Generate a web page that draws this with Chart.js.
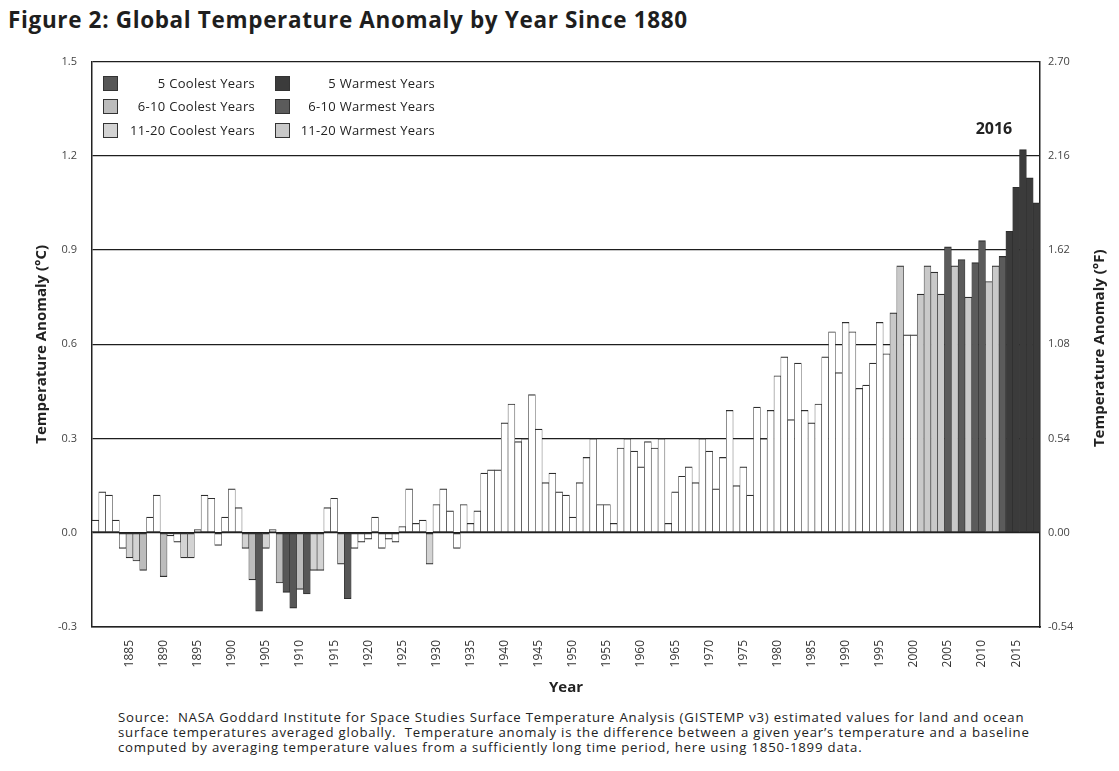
<!DOCTYPE html>
<html>
<head>
<meta charset="utf-8">
<script src="https://cdn.jsdelivr.net/npm/chart.js@4.4.1/dist/chart.umd.min.js"></script>
<style>
html,body{margin:0;padding:0;background:#fff;}
#wrap{position:relative;width:1119px;height:771px;overflow:hidden;font-family:"Open Sans",sans-serif;color:#222;}
#title{position:absolute;left:8px;top:4px;font-size:22.5px;letter-spacing:0.65px;font-weight:700;white-space:nowrap;color:#1e1e1e;}
#chartBox{position:absolute;left:0;top:40px;width:1119px;height:660px;}
#legend{position:absolute;left:0;top:0;width:1119px;height:200px;pointer-events:none;}
.lg{position:absolute;display:flex;align-items:center;justify-content:space-between;height:16px;font-size:13px;letter-spacing:0.3px;color:#222;}
.sw{width:15px;height:15px;box-sizing:border-box;border:1px solid #333;}
#source{position:absolute;left:118px;top:710px;font-size:13.2px;letter-spacing:0.8px;line-height:15px;white-space:pre;color:#222;}
</style>
</head>
<body>
<div id="wrap">
  <div id="title">Figure 2: Global Temperature Anomaly by Year Since 1880</div>
  <div id="chartBox"><canvas id="c" width="1119" height="660"></canvas></div>
  <div id="legend"></div>
  <div id="source">Source:  NASA Goddard Institute for Space Studies Surface Temperature Analysis (GISTEMP v3) estimated values for land and ocean
surface temperatures averaged globally.  Temperature anomaly is the difference between a given year’s temperature and a baseline
computed by averaging temperature values from a sufficiently long time period, here using 1850-1899 data.</div>
</div>
<script>
// ---- categories ----
const years = [
  1880,1881,1882,1883,1884,1885,1886,1887,1888,1889,
  1890,1891,1892,1893,1894,1895,1896,1897,1898,1899,
  1900,1901,1902,1903,1904,1905,1906,1907,1908,1909,
  1910,1911,1912,1913,1914,1915,1916,1917,1918,1919,
  1920,1921,1922,1923,1924,1925,1926,1927,1928,1929,
  1930,1931,1932,1933,1934,1935,1936,1937,1938,1939,
  1940,1941,1942,1943,1944,1945,1946,1947,1948,1949,
  1950,1951,1952,1953,1954,1955,1956,1957,1958,1959,
  1960,1961,1962,1963,1964,1965,1966,1967,1968,1969,
  1970,1971,1972,1973,1974,1975,1976,1977,1978,1979,
  1980,1981,1982,1983,1984,1985,1986,1987,1988,1989,
  1990,1991,1992,1993,1994,1995,1996,1997,1998,1999,
  2000,2001,2002,2003,2004,2005,2006,2007,2008,2009,
  2010,2011,2012,2013,2014,2015,2016,2017,2018
];
// ---- temperature anomaly (°C) ----
const anomalyC = [
   0.04, 0.13, 0.12, 0.04,-0.05,-0.08,-0.09,-0.12, 0.05, 0.12,
  -0.14,-0.01,-0.03,-0.08,-0.08, 0.01, 0.12, 0.11,-0.04, 0.05,
   0.14, 0.08,-0.05,-0.15,-0.25,-0.05, 0.01,-0.16,-0.19,-0.24,
  -0.18,-0.195,-0.12,-0.12, 0.08, 0.11,-0.10,-0.21,-0.05,-0.03,
  -0.02, 0.05,-0.05,-0.02,-0.03, 0.02, 0.14, 0.03, 0.04,-0.10,
   0.09, 0.14, 0.07,-0.05, 0.09, 0.03, 0.07, 0.19, 0.20, 0.20,
   0.35, 0.41, 0.29, 0.30, 0.44, 0.33, 0.16, 0.19, 0.13, 0.12,
   0.05, 0.16, 0.24, 0.30, 0.09, 0.09, 0.03, 0.27, 0.30, 0.26,
   0.21, 0.29, 0.27, 0.30, 0.03, 0.13, 0.18, 0.21, 0.16, 0.30,
   0.26, 0.14, 0.24, 0.39, 0.15, 0.21, 0.12, 0.40, 0.30, 0.39,
   0.50, 0.56, 0.36, 0.54, 0.39, 0.35, 0.41, 0.56, 0.64, 0.51,
   0.67, 0.64, 0.46, 0.47, 0.54, 0.67, 0.57, 0.70, 0.85, 0.63,
   0.63, 0.76, 0.85, 0.83, 0.76, 0.91, 0.85, 0.87, 0.75, 0.86,
   0.93, 0.80, 0.85, 0.88, 0.96, 1.10, 1.22, 1.13, 1.05
];
// ---- ranked groups (as shaded in the figure) ----
const coolest5 = [1904, 1909, 1917, 1911, 1908];
const coolest6to10 = [1910, 1907, 1903, 1890, 1887];
const coolest11to20 = [1912, 1913, 1929, 1916, 1886, 1885, 1893, 1894, 1902, 1905];
const warmest5 = [2016, 2017, 2015, 2018, 2014];
const warmest6to10 = [2010, 2005, 2013, 2007, 2009];
const warmest11to20 = [1998, 2002, 2006, 2012, 2003, 2011, 2001, 2004, 2008, 1997];
// ---- ticks ----
const leftTicksC = [-0.3, 0.0, 0.3, 0.6, 0.9, 1.2, 1.5];
const rightTicksF = [-0.54, 0.00, 0.54, 1.08, 1.62, 2.16, 2.70];
const labelledYears = [1885,1890,1895,1900,1905,1910,1915,1920,1925,1930,1935,1940,1945,1950,1955,1960,1965,1970,1975,1980,1985,1990,1995,2000,2005,2010,2015];
const highlightYear = 2016;
// ---- legend labels ----
const legendLabels = [
  ['5 Coolest Years', '5 Warmest Years'],
  ['6-10 Coolest Years', '6-10 Warmest Years'],
  ['11-20 Coolest Years', '11-20 Warmest Years']
];

const shade = {
  c5: '#575757', c10: '#bcbcbc', c20: '#d3d3d3',
  w5: '#3b3b3b', w10: '#5b5b5b', w20: '#c9c9c9', none: '#ffffff'
};
function shadeFor(y) {
  if (coolest5.includes(y)) return shade.c5;
  if (coolest6to10.includes(y)) return shade.c10;
  if (coolest11to20.includes(y)) return shade.c20;
  if (warmest5.includes(y)) return shade.w5;
  if (warmest6to10.includes(y)) return shade.w10;
  if (warmest11to20.includes(y)) return shade.w20;
  return shade.none;
}
const barColors = years.map(shadeFor);

// legend (html)
const legendSw = [[shade.c5, shade.w5],[shade.c10, shade.w10],[shade.c20, shade.w20]];
const lg = document.getElementById('legend');
const rowsY = [83, 106, 130];
const cols = [{x:103, w:152}, {x:275, w:160}];
legendLabels.forEach((row, r) => {
  row.forEach((txt, c) => {
    const d = document.createElement('div');
    d.className = 'lg';
    d.style.left = cols[c].x + 'px';
    d.style.top = (rowsY[r] - 8) + 'px';
    d.style.width = cols[c].w + 'px';
    const s = document.createElement('div');
    s.className = 'sw';
    s.style.background = legendSw[r][c];
    const t = document.createElement('span');
    t.textContent = txt;
    d.appendChild(s); d.appendChild(t);
    lg.appendChild(d);
  });
});

const FONT = '"Open Sans", sans-serif';
const extraText = {
  id: 'extraText',
  afterDraw(chart) {
    const ctx = chart.ctx;
    const ca = chart.chartArea;
    ctx.save();
    ctx.font = 'bold 15px ' + FONT;
    ctx.fillStyle = '#222';
    ctx.textAlign = 'center';
    ctx.textBaseline = 'middle';
    ctx.translate(1100, (ca.top + ca.bottom) / 2 + 4);
    ctx.rotate(-Math.PI / 2);
    ctx.fillText('Temperature Anomaly (°F)', 0, 0);
    ctx.restore();
    const meta = chart.getDatasetMeta(0);
    const el = meta.data[years.indexOf(highlightYear)];
    if (el) {
      ctx.save();
      ctx.font = 'bold 16px ' + FONT;
      ctx.fillStyle = '#222';
      ctx.textAlign = 'center';
      ctx.textBaseline = 'middle';
      ctx.fillText(String(highlightYear), el.x - 29, el.y - 20);
      ctx.restore();
    }
  }
};

new Chart(document.getElementById('c'), {
  type: 'bar',
  data: {
    labels: years,
    datasets: [{
      data: anomalyC,
      backgroundColor: barColors,
      borderColor: '#2e2e2e',
      borderWidth: {left: 0.6, right: 0.6, top: 1.2, bottom: 1.2},
      borderSkipped: false,
      barPercentage: 1,
      categoryPercentage: 1,
      yAxisID: 'y'
    }]
  },
  options: {
    responsive: false,
    animation: false,
    devicePixelRatio: 1,
    layout: {padding: {top: 18, left: 30, right: 7, bottom: 0}},
    plugins: {legend: {display: false}, tooltip: {enabled: false}, title: {display: false}},
    scales: {
      x: {
        type: 'category',
        grid: {display: false, drawTicks: false},
        border: {display: true, color: '#222', width: 1.5},
        ticks: {
          autoSkip: false, minRotation: 90, maxRotation: 90, padding: 13,
          color: '#333', font: {family: FONT, size: 12},
          callback: function(v, i) { const yr = years[i]; return labelledYears.includes(yr) ? String(yr) : ''; }
        },
        title: {display: true, text: 'Year', color: '#222', font: {family: FONT, size: 15, weight: 'bold'}, padding: {top: 4, bottom: 3}},
        afterFit: s => { s.height = 73; }
      },
      y: {
        position: 'left',
        min: -0.3, max: 1.5,
        afterBuildTicks: s => { s.ticks = leftTicksC.map(v => ({value: v})); },
        grid: {display: true, drawTicks: false, color: '#1e1e1e', lineWidth: 1.3},
        border: {display: true, color: '#222', width: 1.5},
        ticks: {padding: 15, color: '#444', font: {family: FONT, size: 11}, callback: v => Number(v).toFixed(1)},
        title: {display: true, text: 'Temperature Anomaly (°C)', color: '#222', font: {family: FONT, size: 15, weight: 'bold'}, padding: {top: 3, bottom: 4}},
        afterFit: s => { s.width = 62; }
      },
      y2: {
        position: 'right',
        min: -0.54, max: 2.70,
        afterBuildTicks: s => { s.ticks = rightTicksF.map(v => ({value: v})); },
        grid: {display: false, drawTicks: false},
        border: {display: true, color: '#222', width: 1.5},
        ticks: {padding: 8, color: '#444', font: {family: FONT, size: 11}, callback: v => Number(v).toFixed(2)},
        afterFit: s => { s.width = 72; }
      }
    }
  },
  plugins: [extraText]
});
</script>
</body>
</html>
